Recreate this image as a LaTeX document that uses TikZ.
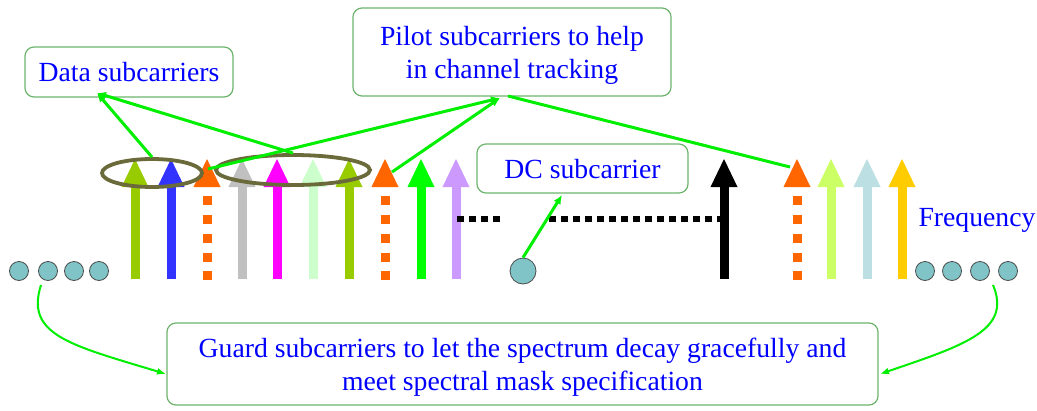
\documentclass[tikz,border=0pt]{standalone}
\usepackage{fontspec}
\setmainfont{Liberation Serif}
\usetikzlibrary{arrows.meta,shapes.geometric}
\definecolor{boxgreen}{HTML}{6DB56D}
\definecolor{linkgreen}{HTML}{00EE00}
\definecolor{txtblue}{HTML}{0000FF}
\definecolor{ringolive}{HTML}{6B6A3A}
\definecolor{dotteal}{HTML}{80C4C8}
\definecolor{cYG}{HTML}{99CC00}
\definecolor{cBlue}{HTML}{3333FF}
\definecolor{cOrange}{HTML}{FF6600}
\definecolor{cGray}{HTML}{C0C0C0}
\definecolor{cMag}{HTML}{FF00FF}
\definecolor{cPale}{HTML}{CCFFCC}
\definecolor{cGreen}{HTML}{00FF00}
\definecolor{cLav}{HTML}{CC99FF}
\definecolor{cLime}{HTML}{CCFF66}
\definecolor{cIce}{HTML}{BBDFE3}
\definecolor{cGold}{HTML}{FFCC00}
\begin{document}
\begin{tikzpicture}[x=1pt,y=-1pt,
  labelbox/.style={draw=boxgreen,line width=1.2pt,rounded corners=9pt,fill=white,
    text=txtblue,align=center,inner sep=0pt,text depth=0pt,
    font=\fontsize{27.7}{33}\selectfont},
  link/.style={draw=linkgreen,line width=3pt},
  linkarrow/.style={link,-{Latex[length=9pt,width=8pt]}},
  guardarrow/.style={draw=linkgreen,line width=2pt,-{Latex[length=9pt,width=7pt]}},
  ring/.style={ellipse,draw=ringolive,line width=3.8pt,inner sep=0pt},
  guarddot/.style={circle,draw=black!70,line width=0.8pt,fill=dotteal,
    minimum size=19pt,inner sep=0pt},
  dcdotstyle/.style={circle,draw=black!70,line width=0.8pt,fill=dotteal,
    minimum size=26pt,inner sep=0pt},
  dots/.style={line width=6pt,dash pattern=on 7pt off 5pt}
]
\useasboundingbox (0,0) rectangle (1037,410);
\fill[white] (0,0) rectangle (1037,410);

% solid subcarriers
\foreach \x/\c in {135/cYG,171/cBlue,242/cGray,277/cMag,313/cPale,349/cYG,421/cGreen,456/cLav,
                   724/black,831/cLime,867/cIce,902/cGold}{
  \fill[\c] (\x-4.5,185) rectangle (\x+4.5,279);
  \fill[\c] (\x-13.5,187) -- (\x,159) -- (\x+13.5,187) -- cycle;
}
% pilot subcarriers (dashed shafts)
\foreach \x in {207,385,797}{
  \fill[cOrange] (\x-13.5,187) -- (\x,159) -- (\x+13.5,187) -- cycle;
  \foreach \y in {196,215,234,253,271}
    \fill[cOrange] (\x-4.5,\y) rectangle (\x+4.5,\y+8.5);
}

% gap of the DC subcarrier
\draw[dots] (457,219) -- (500,219);
\draw[dots] (549,219) -- (720,219);

% guard subcarriers and the DC subcarrier
\foreach \x [count=\i] in {19,48,74,99}
  \node[guarddot] (gl\i) at (\x,271) {};
\foreach \x [count=\i] in {925,952,980,1008}
  \node[guarddot] (gr\i) at (\x,271) {};
\node[dcdotstyle] (dcdot) at (523,271) {};

% groups of data subcarriers
\node[ring,minimum width=100pt,minimum height=28pt] (e1) at (152,173) {};
\node[ring,minimum width=154pt,minimum height=30pt] (e2) at (293,170) {};

% labels
\node[labelbox,minimum width=208pt,minimum height=50pt] (data) at (129,72) {Data subcarriers};
\node[labelbox,minimum width=318pt,minimum height=88pt] (pilot) at (512,52)
  {Pilot subcarriers to help\\in channel tracking};
\node[labelbox,minimum width=211pt,minimum height=49pt] (dc) at (582.5,168.5) {DC subcarrier};
\node[labelbox,minimum width=711pt,minimum height=82pt] (guard) at (522.5,364)
  {Guard subcarriers to let the spectrum decay gracefully and\\meet spectral mask specification};
\node[text=txtblue,font=\fontsize{27.7}{33}\selectfont,inner sep=0pt] (freq) at (977,220) {Frequency};

% connector end points
\coordinate (dataIn) at (97,93);
\coordinate (pilotIn) at (500,98);
\coordinate (pilotOut) at (508,96);
\coordinate (p1) at (208,169);
\coordinate (p2) at (392,172);
\coordinate (p3) at (790,167);
\coordinate (dcIn) at (562,195);
\coordinate (glOut) at (41,285);
\coordinate (grOut) at (993,285);
\coordinate (guardL) at (166,374);
\coordinate (guardR) at (880,374);

% connectors
\draw[linkarrow] (e1.north) -- (dataIn);
\draw[linkarrow] (e2.north) -- (dataIn);
\draw[linkarrow] (p1) -- (pilotIn);
\draw[linkarrow] (p2) -- (pilotIn);
\draw[link] (pilotOut) -- (p3);
\draw[linkarrow] (dcdot.north) -- (dcIn);
\draw[guardarrow] (glOut) .. controls (25,335) and (70,345) .. (guardL);
\draw[guardarrow] (grOut) .. controls (1012,330) and (965,345) .. (guardR);
\end{tikzpicture}
\end{document}
